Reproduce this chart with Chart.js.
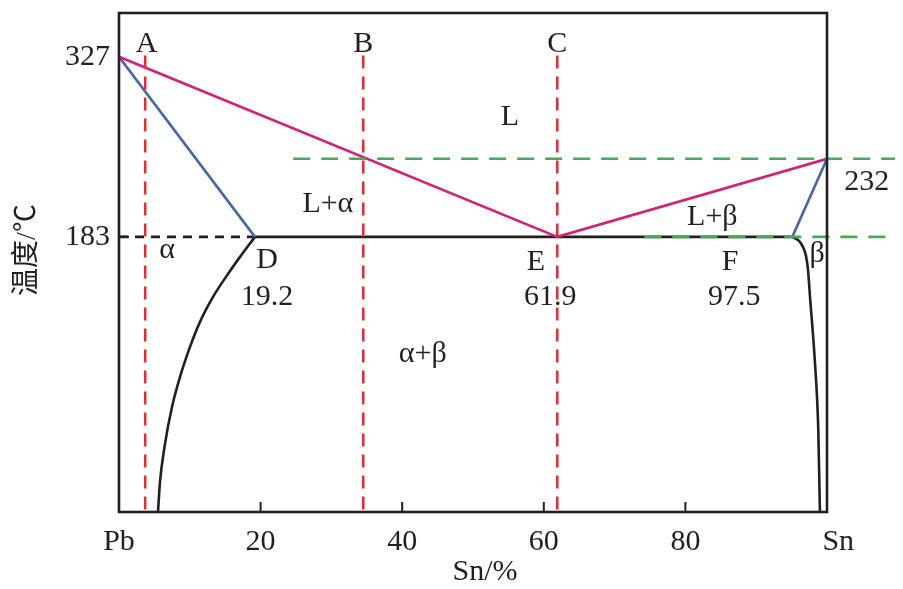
<!DOCTYPE html>
<html>
<head>
<meta charset="utf-8">
<script src="https://cdn.jsdelivr.net/npm/chart.js@4.4.1/dist/chart.umd.min.js"></script>
<style>
  html, body { margin: 0; padding: 0; background: #fff; }
  #wrap { width: 903px; height: 589px; }
</style>
</head>
<body>
<div id="wrap"><canvas id="chart" width="903" height="589"></canvas></div>
<script>
// x: Sn content (%), Pb = 0 ... Sn = 100
var xTicks = [0, 20, 40, 60, 80, 100];
var xTickLabels = ["Pb", "20", "40", "60", "80", "   Sn"];
var yTicks = [183, 327];

// y values are positions on the (schematic) temperature axis as drawn
var liquidus = [[0, 327], [61.9, 183], [100, 245.4]];
var solidusPb = [[0, 327], [19.2, 183]];
var solidusSn = [[95.1, 183], [100, 245.4]];
var eutectic = [[19.2, 183], [95.1, 183]];
var eutecticDash = [[0, 183], [19.2, 183]];
var solvusPb = [[5.51, -37], [5.79, -12.9], [6.43, 15.1], [7.49, 47.1], [8.62, 71.1], [10.03, 95],
  [11.44, 115], [13.28, 135], [15.11, 151], [17.09, 167], [19.2, 183]];
var solvusSn = [[95.1, 183], [96.05, 179.8], [96.6, 175], [97.03, 167.8], [97.32, 156.6], [97.6, 135],
  [98.3, 82.2], [98.77, 28.6], [99, -37]];
var guideTop = [[24.6, 245.4], [109.6, 245.4]];
var guideBottom = [[74.2, 183], [109.6, 183]];
var alloyA = [[3.7, 328], [3.7, -37]];
var alloyB = [[34.5, 328], [34.5, -37]];
var alloyC = [[61.9, 328], [61.9, -37]];

// region / point labels: text, x, y (baseline)
var labels = [
  ["A", 3.9, 330.8], ["B", 34.5, 330.8], ["C", 61.9, 330.8],
  ["L", 55.2, 272.5], ["L+α", 29.5, 202.9], ["α", 6.8, 166.1],
  ["D", 20.9, 158.1], ["19.2", 20.9, 128.5],
  ["E", 58.9, 156.5], ["61.9", 60.9, 128.5],
  ["α+β", 42.9, 82.9], ["L+β", 83.8, 192.5],
  ["F", 86.3, 156.5], ["97.5", 86.9, 128.5],
  ["β", 98.6, 162.9], ["232", 105.6, 220.5]
];

var SERIF = '"Liberation Serif", "Times New Roman", serif';
var INK = "#231f20";

function pts(arr) {
  return arr.map(function (p) { return { x: p[0], y: p[1] }; });
}

function line(data, color, dash, extra) {
  var ds = {
    data: pts(data),
    showLine: true,
    borderColor: color,
    borderWidth: 2.6,
    borderDash: dash || [],
    pointRadius: 0,
    tension: 0,
    fill: false
  };
  for (var k in extra) ds[k] = extra[k];
  return ds;
}

var red = "#d8333b";
var green = "#4aa85a";

var diagramPlugin = {
  id: "diagram",
  afterDraw: function (chart) {
    var ctx = chart.ctx;
    var a = chart.chartArea;
    var xs = chart.scales.x;
    var ys = chart.scales.y;
    ctx.save();

    // frame
    ctx.strokeStyle = INK;
    ctx.lineWidth = 2.6;
    ctx.strokeRect(a.left, a.top, a.right - a.left, a.bottom - a.top);

    // inward ticks
    ctx.beginPath();
    xTicks.forEach(function (v) {
      if (v === xs.min || v === xs.max) return;
      var px = xs.getPixelForValue(v);
      ctx.moveTo(px, a.bottom);
      ctx.lineTo(px, a.bottom - 10);
    });
    [183].forEach(function (v) {
      var py = ys.getPixelForValue(v);
      ctx.moveTo(a.left, py);
      ctx.lineTo(a.left + 10, py);
    });
    ctx.lineWidth = 2;
    ctx.stroke();

    // labels
    ctx.fillStyle = INK;
    ctx.font = "30px " + SERIF;
    ctx.textAlign = "center";
    ctx.textBaseline = "alphabetic";
    labels.forEach(function (l) {
      ctx.fillText(l[0], xs.getPixelForValue(l[1]), ys.getPixelForValue(l[2]));
    });

    // axis titles
    ctx.fillText("Sn/%", (a.left + a.right) / 2 + 12, 580);
    ctx.save();
    ctx.translate(28, 250);
    ctx.rotate(-Math.PI / 2);
    ctx.textBaseline = "middle";
    ctx.font = '28px "Liberation Serif", "Noto Sans CJK SC", serif';
    ctx.fillText("温度/℃", 0, 0);
    ctx.restore();

    ctx.restore();
  }
};

new Chart(document.getElementById("chart"), {
  type: "scatter",
  data: {
    datasets: [
      line(alloyA, red, [13, 8]),
      line(alloyB, red, [13, 8]),
      line(alloyC, red, [13, 8]),
      line(guideTop, green, [17, 11], { clip: false }),
      line(guideBottom, green, [17, 11], { clip: false }),
      line(liquidus, "#d1227b"),
      line(solidusPb, "#4a66a6"),
      line(solidusSn, "#4a66a6"),
      line(eutectic, INK),
      line(eutecticDash, INK, [9, 7]),
      line(solvusPb, INK, [], { cubicInterpolationMode: "monotone" }),
      line(solvusSn, INK, [], { cubicInterpolationMode: "monotone" })
    ]
  },
  options: {
    responsive: false,
    devicePixelRatio: 1,
    animation: false,
    layout: { padding: { left: 0, top: 13, right: 76, bottom: 0 } },
    plugins: {
      legend: { display: false },
      tooltip: { enabled: false }
    },
    scales: {
      x: {
        type: "linear",
        min: 0,
        max: 100,
        afterBuildTicks: function (scale) {
          scale.ticks = xTicks.map(function (v) { return { value: v }; });
        },
        afterFit: function (scale) {
          scale.height = 77;
          scale.paddingLeft = 0;
          scale.paddingRight = 0;
        },
        grid: { display: false, drawTicks: false },
        border: { display: false },
        ticks: {
          padding: 12,
          color: INK,
          font: { family: SERIF, size: 30 },
          maxRotation: 0,
          autoSkip: false,
          callback: function (v) {
            var i = xTicks.indexOf(v);
            return i >= 0 ? xTickLabels[i] : "";
          }
        }
      },
      y: {
        type: "linear",
        min: -37,
        max: 362,
        afterBuildTicks: function (scale) {
          scale.ticks = yTicks.map(function (v) { return { value: v }; });
        },
        afterFit: function (scale) {
          scale.width = 119;
          scale.paddingTop = 0;
          scale.paddingBottom = 0;
        },
        grid: { display: false, drawTicks: false },
        border: { display: false },
        ticks: {
          padding: 9,
          color: INK,
          font: { family: SERIF, size: 30 },
          autoSkip: false
        }
      }
    }
  },
  plugins: [diagramPlugin]
});
</script>
</body>
</html>
